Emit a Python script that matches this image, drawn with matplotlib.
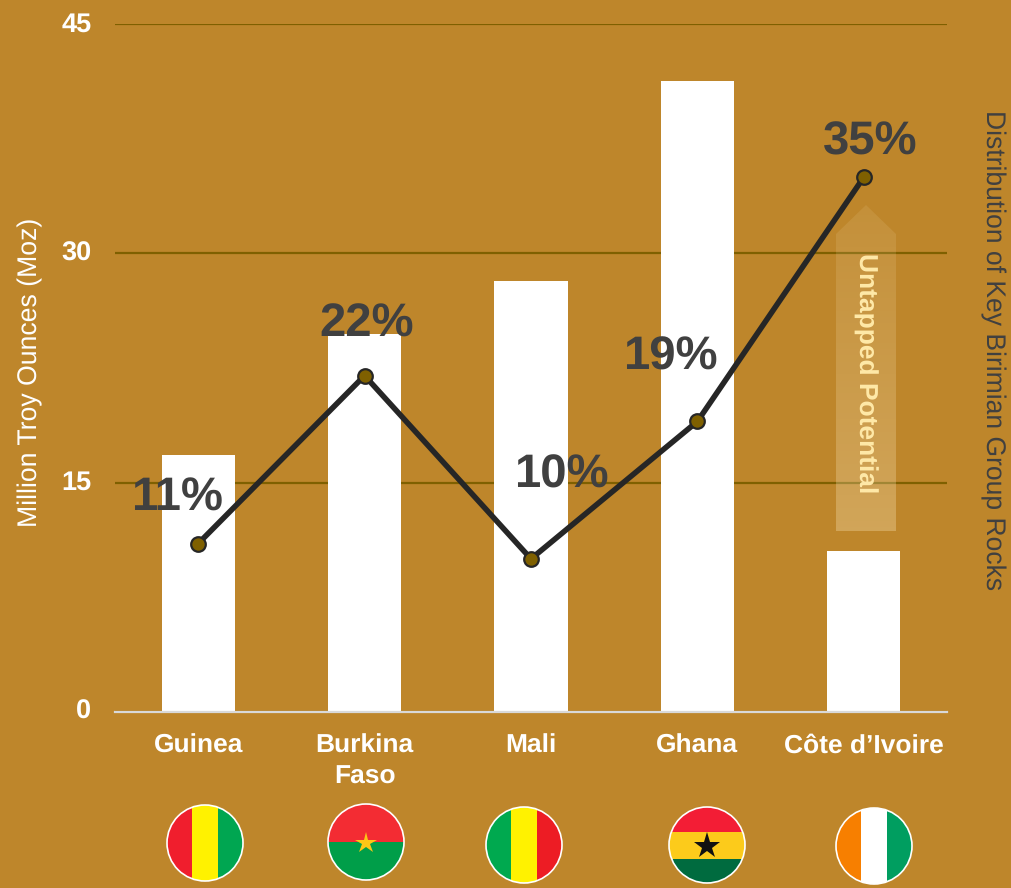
import numpy as np
import matplotlib
matplotlib.use('Agg')
import matplotlib.pyplot as plt
from matplotlib.patches import Circle, Rectangle, Polygon

plt.rcParams['font.family'] = ['Liberation Sans', 'DejaVu Sans']
plt.rcParams['text.hinting'] = 'no_hinting'

countries = ['Guinea', 'Burkina\nFaso', 'Mali', 'Ghana', 'Côte d’Ivoire']
moz = [16.8, 24.7, 28.2, 41.3, 10.5]
rock_share = [11, 22, 10, 19, 35]
share_labels = ['11%', '22%', '10%', '19%', '35%']
y_ticks = [0, 15, 30, 45]

bg = '#BE862B'
grid_col = '#7F6000'
dark = '#404040'

# label offsets from the line points, in pixels
label_dx = [-21, 2, 30, -27, 6]
label_dy = [45, 51, 83, 64, 35]

W, H = 1011, 888
fig = plt.figure(figsize=(W / 100, H / 100), dpi=100, facecolor=bg)
ax = fig.add_axes([115 / W, (H - 711.5) / H, 832 / W, 687 / H])
ax.set_facecolor('none')

x = np.arange(len(countries))
ax.bar(x, moz, width=0.44, color='white', zorder=2)
ax.set_xlim(-0.5, 4.5)
ax.set_ylim(0, 45)
ax.set_yticks(y_ticks)
ax.set_xticks(x)
ax.set_xticklabels(countries, color='white', fontsize=19, fontweight='bold', linespacing=1.37, va='top')
ax.tick_params(axis='x', length=0, pad=16)
ax.tick_params(axis='y', length=0, pad=17, labelcolor='white', labelsize=19.5)
for lab in ax.get_yticklabels():
    lab.set_fontweight('bold')
    lab.set_verticalalignment('center')
    lab.set_y(lab.get_position()[1])
ax.yaxis.grid(True, color=grid_col, lw=1.6, zorder=1)
ax.set_axisbelow(True)
for s in ['top', 'left', 'right']:
    ax.spines[s].set_visible(False)
ax.spines['bottom'].set_color('#D9D9D9')
ax.spines['bottom'].set_linewidth(1.6)
ax.set_ylabel('Million Troy Ounces (Moz)', color='white', fontsize=19.2)
ax.yaxis.set_label_coords(-72 / 832, 0.5 - (372 - 368) / 687)

# share of rocks line, second axis has the same 0-45 scale
ax2 = ax.twinx()
ax2.set_ylim(0, 45)
ax2.set_yticks([])
for s in ax2.spines.values():
    s.set_visible(False)
ax2.plot(x, rock_share, color='#262626', lw=4, marker='o', ms=10.5,
         mfc=grid_col, mec='#262626', mew=1.6, zorder=5)
for i in range(len(x)):
    ax2.annotate(share_labels[i], (x[i], rock_share[i]),
                 xytext=(label_dx[i] * 0.72, label_dy[i] * 0.72), textcoords='offset points',
                 ha='center', va='center', fontsize=34, fontweight='bold', color=dark, zorder=6)
ax2.set_ylabel('Distribution of Key Birimian Group Rocks', color=dark, fontsize=19.1, rotation=270, va='center')
ax2.yaxis.set_label_coords((993 - 115) / 832, 1 - (350 - 24.5) / 687)

# overlay in pixel coordinates for arrow and flags
ov = fig.add_axes([0, 0, 1, 1], zorder=3)
ov.set_facecolor('none')
ov.axis('off')

grad = np.zeros((256, 1, 4))
grad[..., 0] = 1.0
grad[..., 1] = 0.94
grad[..., 2] = 0.78
grad[..., 3] = np.linspace(0.1, 0.3, 256)[:, None]
im = ov.imshow(grad, extent=(836, 896, 531, 205), aspect='auto', zorder=1)
arrow = Polygon([(866, 205), (896, 234), (896, 531), (836, 531), (836, 234)],
                closed=True, fc='none', ec='none', transform=ov.transData)
ov.add_patch(arrow)
im.set_clip_path(arrow)
ov.set_xlim(0, W)
ov.set_ylim(H, 0)
ov.text(865, 373.5, 'Untapped Potential', rotation=270, ha='center', va='center',
        color='#FFE9A8', fontsize=19, fontweight='bold', zorder=2)


def flag(cx, cy, stripes, vertical=True, bounds=None, star=None):
    r = 38
    clip = Circle((cx, cy), r, fc='none', ec='none', transform=ov.transData)
    ov.add_patch(clip)
    if bounds is None:
        bounds = [-r, -r / 3, r / 3, r] if len(stripes) == 3 else [-r, 0, r]
    for k, c in enumerate(stripes):
        if vertical:
            p = Rectangle((cx + bounds[k], cy - r), bounds[k + 1] - bounds[k], 2 * r, fc=c, ec='none', zorder=3)
        else:
            p = Rectangle((cx - r, cy + bounds[k]), 2 * r, bounds[k + 1] - bounds[k], fc=c, ec='none', zorder=3)
        ov.add_patch(p)
        p.set_clip_path(clip)
    if star:
        ov.plot([cx], [cy + 1], marker='*', color=star[0], ms=star[1], mew=0, zorder=4)
    ov.add_patch(Circle((cx, cy), r, fc='none', ec='white', lw=1.2, zorder=5))


flag(205, 843, ['#F01E2D', '#FFF200', '#00A651'])
flag(366, 842, ['#F32C33', '#009E49'], vertical=False, star=('#FCC716', 16))
flag(524, 845, ['#00A94F', '#FFF200', '#ED1C24'])
flag(707, 845, ['#F31D35', '#FCCB1B', '#006B3F'], vertical=False, bounds=[-38, -13, 14, 38], star=('#111111', 20))
flag(874, 846, ['#F77F00', '#FFFFFF', '#009E60'])

fig.savefig('out.png', dpi=100, facecolor=bg)
